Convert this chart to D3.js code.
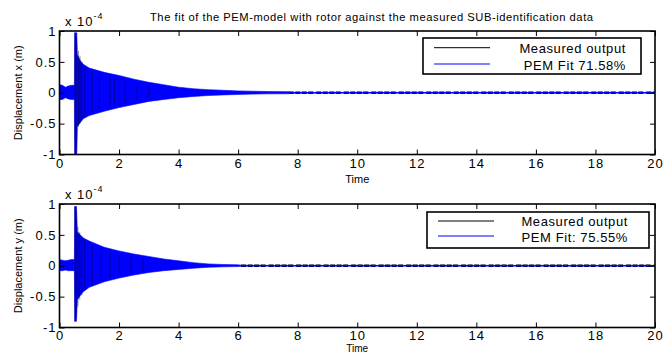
<!DOCTYPE html>
<html>
<head>
<meta charset="utf-8">
<script src="https://cdn.jsdelivr.net/npm/d3@7"></script>
<style>
  html, body { margin: 0; padding: 0; background: #fff; }
  svg { display: block; font-family: "Liberation Sans", Arial, sans-serif; }
</style>
</head>
<body>
<svg id="chart" width="669" height="354"></svg>
<script>
// ---- data -------------------------------------------------------------
const chartTitle = "The fit of the PEM-model with rotor against the measured SUB-identification data";
const xTicks = [0, 2, 4, 6, 8, 10, 12, 14, 16, 18, 20];
const yTicks = [-1, -0.5, 0, 0.5, 1];
const yTickLabels = ["-1", "-0.5", "0", "0.5", "1"];

// envelope of the fitted response, displacement x (units of 1e-4 m)
const envTimeX  = [0, 0.1, 0.2, 0.3, 0.4, 0.5, 0.51, 0.58, 0.6, 0.7, 0.8, 1.0, 1.5, 2.0, 2.5, 3.0, 3.5, 4.0, 4.5, 5.0, 5.5, 6.0, 6.5, 7.0, 7.7, 7.75, 20];
const envUpperX = [0.13, 0.12, 0.09, 0.11, 0.12, 0.12, 0.97, 0.97, 0.62, 0.52, 0.46, 0.40, 0.33, 0.28, 0.22, 0.17, 0.13, 0.09, 0.065, 0.05, 0.04, 0.03, 0.025, 0.02, 0.018, 0.006, 0.006];
const envLowerX = [-0.11, -0.11, -0.08, -0.10, -0.11, -0.11, -0.99, -0.99, -0.55, -0.48, -0.42, -0.37, -0.30, -0.24, -0.19, -0.14, -0.11, -0.08, -0.06, -0.045, -0.035, -0.028, -0.022, -0.018, -0.016, -0.006, -0.006];
// peaks of the measured response that stand out, displacement x
const peakTimeX = [0.52, 0.56, 0.64, 0.69, 0.75, 0.85, 1.1, 1.35, 1.7, 1.85, 2.2, 2.6, 3.0];
const peakHiX   = [0.98, 0.9, 0.68, 0.6, 0.5, 0.44, 0.34, 0.3, 0.24, 0.22, 0.18, 0.14, 0.11];
const peakLoX   = [-1.0, -0.95, -0.55, -0.5, -0.45, -0.4, -0.3, -0.26, -0.2, -0.18, -0.15, -0.12, -0.09];
const measuredTailStartX = 7.7;

// envelope of the fitted response, displacement y
const envTimeY  = [0, 0.1, 0.2, 0.3, 0.4, 0.5, 0.51, 0.57, 0.6, 0.7, 0.8, 1.0, 1.5, 2.0, 2.5, 3.0, 3.5, 4.0, 4.5, 5.0, 5.5, 6.0, 6.1, 6.15, 20];
const envUpperY = [0.10, 0.09, 0.08, 0.09, 0.10, 0.10, 0.96, 0.96, 0.55, 0.50, 0.45, 0.40, 0.30, 0.24, 0.19, 0.15, 0.11, 0.08, 0.05, 0.03, 0.02, 0.015, 0.01, 0.006, 0.006];
const envLowerY = [-0.08, -0.08, -0.07, -0.08, -0.08, -0.08, -0.90, -0.90, -0.55, -0.48, -0.42, -0.35, -0.26, -0.20, -0.15, -0.11, -0.08, -0.06, -0.04, -0.025, -0.018, -0.013, -0.01, -0.006, -0.006];
// peaks of the measured response that stand out, displacement y
const peakTimeY = [0.52, 0.56, 0.62, 0.68, 0.75, 0.85, 1.1, 1.4, 1.7, 2.0, 2.4, 2.8];
const peakHiY   = [0.96, 0.9, 0.63, 0.55, 0.48, 0.42, 0.33, 0.26, 0.21, 0.18, 0.14, 0.11];
const peakLoY   = [-0.9, -0.85, -0.66, -0.55, -0.48, -0.4, -0.3, -0.24, -0.19, -0.16, -0.12, -0.09];
const measuredTailStartY = 6.1;

const yLabels = ["Displacement x (m)", "Displacement y (m)"];
const legendMeasured = "Measured output";
const legendFits = ["PEM Fit 71.58%", "PEM Fit: 75.55%"];

// ---- layout -----------------------------------------------------------
const svg = d3.select("#chart");
const panels = [
  { top: 31, bottom: 154.5, t: envTimeX, up: envUpperX, lo: envLowerX,
    pt: peakTimeX, ph: peakHiX, pl: peakLoX, tail: measuredTailStartX,
    ylab: yLabels[0], fit: legendFits[0], timeY: 183, timeSize: 11, pad: 4,
    legend: { x0: 423, x1: 641, y0: 38, y1: 74, l1: 47.7, l2: 64, tx: 626 } },
  { top: 204, bottom: 327.5, t: envTimeY, up: envUpperY, lo: envLowerY,
    pt: peakTimeY, ph: peakHiY, pl: peakLoY, tail: measuredTailStartY,
    ylab: yLabels[1], fit: legendFits[1], timeY: 351.8, timeSize: 10, pad: 3,
    legend: { x0: 427, x1: 649, y0: 212, y1: 248, l1: 221, l2: 236, tx: 628 } }
];
const left = 59.5, right = 655;
const x = d3.scaleLinear().domain([0, 20]).range([left, right]);
const fontTick = 13;

svg.append("text")
  .attr("x", 150).attr("y", 21)
  .attr("font-size", 11.2)
  .attr("textLength", 443).attr("lengthAdjust", "spacing")
  .text(chartTitle);

panels.forEach((p, i) => {
  const y = d3.scaleLinear().domain([-1, 1]).range([p.bottom, p.top]);
  const g = svg.append("g");
  const clipId = "clip" + i;
  svg.append("clipPath").attr("id", clipId)
    .append("rect").attr("x", left).attr("y", p.top)
    .attr("width", right - left).attr("height", p.bottom - p.top);
  const plot = g.append("g").attr("clip-path", `url(#${clipId})`);

  // measured output tail: small residual oscillation around zero
  plot.append("line")
    .attr("x1", x(p.tail)).attr("x2", x(20))
    .attr("y1", y(0)).attr("y2", y(0))
    .attr("stroke", "#000").attr("stroke-width", 2.6)
    .attr("stroke-dasharray", "5,1.5,5,1.5,5,1.5,5,3");

  // fitted response band
  const rows = p.t.map((t, k) => ({ t, hi: p.up[k], lo: p.lo[k] }));
  const area = d3.area().x(d => x(d.t)).y0(d => y(d.lo)).y1(d => y(d.hi));
  plot.append("path").datum(rows)
    .attr("d", area).attr("fill", "#0000ff").attr("stroke", "#0000ff").attr("stroke-width", 0.6);

  // measured peaks showing through the fitted band
  plot.selectAll(".peak").data(p.pt.map((t, k) => ({ t, hi: p.ph[k], lo: p.pl[k] })))
    .join("line")
    .attr("x1", d => x(d.t)).attr("x2", d => x(d.t))
    .attr("y1", d => y(d.hi)).attr("y2", d => y(d.lo))
    .attr("stroke", "#000").attr("stroke-opacity", 0.5).attr("stroke-width", 0.8);

  // fitted line through the tail
  plot.append("line")
    .attr("x1", x(p.tail)).attr("x2", x(20))
    .attr("y1", y(0)).attr("y2", y(0))
    .attr("stroke", "#0000ff").attr("stroke-width", 1);

  // axes box with inward ticks on all sides
  const tl = 5;
  const axB = d3.axisBottom(x).tickValues(xTicks).tickSize(-tl).tickPadding(p.pad).tickFormat(d3.format("d"));
  const axT = d3.axisTop(x).tickValues(xTicks).tickSize(-tl).tickFormat("");
  const axL = d3.axisLeft(y).tickValues(yTicks).tickSize(-tl).tickPadding(3)
    .tickFormat((d, k) => yTickLabels[k]);
  const axR = d3.axisRight(y).tickValues(yTicks).tickSize(-tl).tickFormat("");

  const styleAxis = sel => {
    sel.select(".domain").remove();
    sel.selectAll("line").attr("stroke", "#000").attr("stroke-width", 1);
    sel.selectAll("text").attr("fill", "#000").attr("font-size", fontTick)
      .attr("font-family", "'Liberation Sans', Arial, sans-serif").attr("letter-spacing", 1);
  };
  g.append("g").attr("transform", `translate(0,${p.bottom})`).call(axB).call(styleAxis);
  g.append("g").attr("transform", `translate(0,${p.top})`).call(axT).call(styleAxis);
  g.append("g").attr("transform", `translate(${left},0)`).call(axL).call(styleAxis);
  g.append("g").attr("transform", `translate(${right},0)`).call(axR).call(styleAxis);

  g.append("rect").attr("x", left).attr("y", p.top)
    .attr("width", right - left).attr("height", p.bottom - p.top)
    .attr("fill", "none").attr("stroke", "#000").attr("stroke-width", 1.6);

  // exponent marker
  const ex = g.append("text").attr("x", 65).attr("y", p.top - 5).attr("font-size", fontTick).attr("letter-spacing", 1);
  ex.append("tspan").text("x 10");
  ex.append("tspan").attr("dy", -7).attr("font-size", 9).text("-4");

  // axis labels
  g.append("text")
    .attr("transform", `translate(22,${(p.top + p.bottom) / 2}) rotate(-90)`)
    .attr("text-anchor", "middle").attr("font-size", 11).text(p.ylab);
  g.append("text")
    .attr("x", x(10)).attr("y", p.timeY)
    .attr("text-anchor", "middle").attr("font-size", p.timeSize).text("Time");

  // legend
  const L = p.legend;
  const lg = g.append("g");
  lg.append("rect").attr("x", L.x0).attr("y", L.y0)
    .attr("width", L.x1 - L.x0).attr("height", L.y1 - L.y0)
    .attr("fill", "#fff").attr("stroke", "#000").attr("stroke-width", 1.6);
  lg.append("line").attr("x1", L.x0 + 11).attr("x2", L.x0 + 67)
    .attr("y1", L.l1).attr("y2", L.l1).attr("stroke", "#000").attr("stroke-width", 1);
  lg.append("line").attr("x1", L.x0 + 11).attr("x2", L.x0 + 67)
    .attr("y1", L.l2).attr("y2", L.l2).attr("stroke", "#0000ff").attr("stroke-width", 1);
  lg.append("text").attr("x", L.tx).attr("y", L.l1 + 5)
    .attr("text-anchor", "end").attr("font-size", 13).attr("letter-spacing", 0.6).text(legendMeasured);
  lg.append("text").attr("x", L.tx).attr("y", L.l2 + 5.5)
    .attr("text-anchor", "end").attr("font-size", 13).attr("letter-spacing", 0.6).text(p.fit);
});
</script>
</body>
</html>
